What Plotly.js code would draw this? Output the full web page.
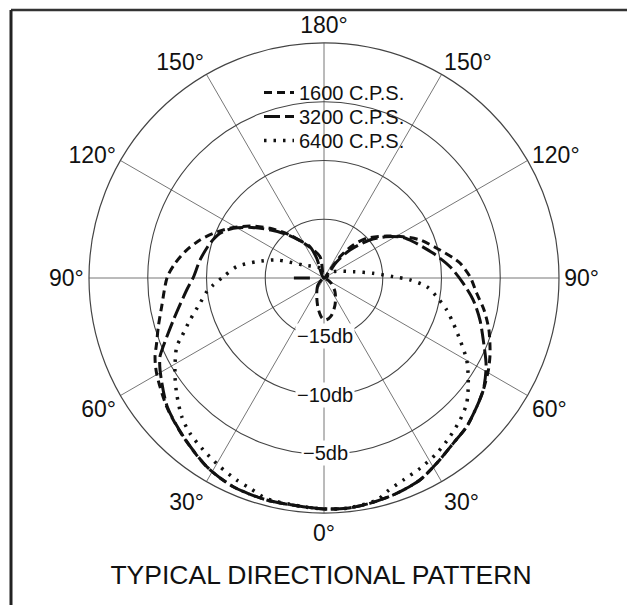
<!DOCTYPE html>
<html>
<head>
<meta charset="utf-8">
<script src="https://cdn.plot.ly/plotly-3.0.1.min.js"></script>
<style>html,body{margin:0;padding:0;background:#fff;}#chart{width:627px;height:605px;}</style>
</head>
<body>
<div id="chart"></div>
<script>
// Angles in degrees from the front (0° at bottom), positive = right side, negative = left side.
// Levels in dB (outer ring 0 dB, centre -20 dB).
var names = ["1600 C.P.S.", "3200 C.P.S.", "6400 C.P.S."];

var theta1600 = [-172, -169.4, -152.3, -141.7, -132.6, -125.1, -117.9, -112.0, -107.0, -101.5, -95.6, -90.3, -80.0, -73.6, -68.7, -64.9, -60.3, -50.7, -41.6, -31.9, -23.5, -14.5, -5.2, 0, 5.6, 11.5, 18.7, 25.4, 31.3, 38.0, 43.8, 49.9, 54.9, 60.8, 64.6, 66.6, 72.5, 78.7, 84.3, 90.5, 96.3, 98.8, 104.8, 111.6, 117.5, 123.8, 132.9, 138.4, 143.1, 143.1, 150,
  null,
  -60, -40.6, -23.2, -11.3, -2.9, 2.7, 10.4, 22.2, 38.2, 54.5, 70];
var r1600 = [-20, -18.15, -16.83, -15.34, -13.75, -12.3, -10.95, -9.84, -8.96, -8.07, -7.26, -6.66, -5.97, -5.30, -4.71, -4.12, -3.6, -2.7, -1.95, -1.09, -0.63, -0.49, -0.46, -0.35, -0.31, -0.43, -0.66, -0.97, -1.54, -2.14, -2.46, -3.0, -3.43, -3.97, -4.37, -4.6, -5.28, -6.11, -6.94, -7.57, -8.36, -8.87, -10.08, -11.2, -12.39, -13.58, -15.04, -16.24, -17.73, -19.15, -20,
  null,
  -20, -19.2, -18.43, -17.4, -16.6, -16.43, -16.7, -17.52, -18.48, -19.27, -20];

var theta3200 = [-165, -159.7, -155.9, -148, -140, -132, -125, -118.7, -113.3, -106.9, -98.3, -90.3, -85.0, -74.4, -66.9, -64.4, -60.7, -50.7, -41.6, -31.9, -23.5, -14.5, -5.2, 0, 5.6, 11.5, 18.7, 25.4, 31.3, 38.0, 43.8, 49.9, 54.9, 61.5, 68.7, 74.9, 81.6, 87.8, 95.1, 102.7, 112.1, 117.5, 123.8, 130, 137.1, 142, 150,
  null,
  -90, -90];
var r3200 = [-20, -18.2, -17.08, -16.3, -15.2, -13.9, -12.5, -11.2, -10.37, -9.86, -9.34, -8.88, -8.27, -6.69, -5.12, -4.52, -4.0, -2.75, -1.97, -1.1, -0.63, -0.49, -0.46, -0.35, -0.31, -0.43, -0.66, -0.97, -1.54, -2.14, -2.46, -3.0, -3.43, -4.3, -5.45, -6.25, -7.16, -8.14, -9.23, -10.46, -11.8, -12.5, -13.7, -15.0, -16.75, -18.3, -20,
  null,
  -18.8, -17.4];

var theta6400 = [-170, -157.6, -122.1, -110.8, -103.6, -97.4, -90.7, -86.4, -83.3, -78.5, -72.6, -67.6, -65.0, -57.4, -52.0, -45.7, -40.8, -35.1, -28.9, -23.4, -19.4, -14.5, -5.2, 0, 5.6, 13.4, 16.4, 21.4, 26.8, 32.7, 38.4, 43.8, 48.7, 53.9, 60.1, 65.5, 70.7, 75.4, 80.6, 85.2, 88.7, 91.1, 95.4, 102.1, 124.1, 140];
var r6400 = [-20, -19.1, -17.92, -15.69, -14.11, -12.51, -11.43, -10.56, -9.95, -9.23, -8.05, -6.9, -6.17, -4.94, -4.08, -3.09, -2.54, -2.12, -1.66, -1.27, -1.03, -0.6, -0.46, -0.35, -0.31, -0.58, -1.05, -1.53, -1.86, -2.26, -2.76, -3.27, -3.84, -4.8, -5.99, -7.28, -8.34, -9.21, -10.28, -11.23, -12.68, -14.1, -15.79, -17.45, -19.05, -20];

var angleTickVals = [0, 30, 60, 90, 120, 150, 180, 210, 240, 270, 300, 330];
var angleTickText = ["0°", "30°", "60°", "90°", "120°", "150°", "180°", "150°", "120°", "90°", "60°", "30°"];
var dbTickVals = [-15, -10, -5];
var dbTickText = ["−15db", "−10db", "−5db"];
var chartTitle = "TYPICAL DIRECTIONAL PATTERN";

var FONT = "Liberation Sans, Arial, sans-serif";

var traces = [
  {type: "scatterpolar", mode: "lines", name: names[0], theta: theta1600, r: r1600, connectgaps: false,
   legend: "legend",
   line: {color: "#111", width: 3, dash: "8px,5px", shape: "spline", smoothing: 0.8}},
  {type: "scatterpolar", mode: "lines", name: names[1], theta: theta3200, r: r3200, connectgaps: false,
   legend: "legend2",
   line: {color: "#111", width: 3, dash: "16px,5px", shape: "spline", smoothing: 0.8}},
  {type: "scatterpolar", mode: "lines", name: names[2], theta: theta6400, r: r6400, connectgaps: false,
   legend: "legend3",
   line: {color: "#111", width: 3.5, dash: "2.5px,7px", shape: "spline", smoothing: 0.8}}
];

// Radial level labels placed on the 0° spoke (bottom), centred on each ring
var domX = [89 / 627, 559 / 627];
var domY = [1 - 513 / 605, 1 - 43 / 605];
var cx = (domX[0] + domX[1]) / 2, cyPix = 278, Rpix = 235;
var annotations = dbTickVals.map(function (v, i) {
  var rp = (v + 20) / 20 * Rpix;
  return {
    xref: "paper", yref: "paper", x: cx + 1 / 627, y: 1 - (cyPix + rp - 1) / 605,
    xanchor: "center", yanchor: "middle", showarrow: false,
    text: dbTickText[i], bgcolor: "#fff", borderpad: 1,
    font: {family: FONT, size: 20, color: "#111"}
  };
});

function legendAt(topPx) {
  return {x: 259 / 627, y: 1 - topPx / 605, xanchor: "left", yanchor: "top",
          bgcolor: "rgba(0,0,0,0)", font: {family: FONT, size: 20, color: "#111"}};
}

var layout = {
  width: 627, height: 605,
  margin: {l: 0, r: 0, t: 0, b: 0},
  paper_bgcolor: "#fff",
  showlegend: true,
  legend: legendAt(73),
  legend2: legendAt(97),
  legend3: legendAt(121),
  title: {text: chartTitle, x: 321 / 627, xanchor: "center", y: 1 - 575 / 605, yanchor: "middle",
          font: {family: FONT, size: 26.5, color: "#111"}},
  polar: {
    domain: {x: domX, y: domY},
    bgcolor: "#fff",
    angularaxis: {
      rotation: 270, direction: "counterclockwise",
      tickmode: "array", tickvals: angleTickVals, ticktext: angleTickText,
      ticks: "", showline: true, linecolor: "#444", linewidth: 1.2,
      showgrid: true, gridcolor: "#777", gridwidth: 1,
      tickfont: {family: FONT, size: 23, color: "#111"}
    },
    radialaxis: {
      range: [-20, 0], tickmode: "array", tickvals: dbTickVals,
      showticklabels: false, ticks: "", showline: false,
      showgrid: true, gridcolor: "#444", gridwidth: 1.1
    }
  },
  annotations: annotations,
  shapes: [
    {type: "line", xref: "paper", yref: "paper", x0: 11 / 627, x1: 1, y0: 1 - 10 / 605, y1: 1 - 10 / 605,
     line: {color: "#333", width: 2.5}},
    {type: "line", xref: "paper", yref: "paper", x0: 11 / 627, x1: 11 / 627, y0: 1 - 10 / 605, y1: 0,
     line: {color: "#222", width: 3}}
  ]
};

Plotly.newPlot("chart", traces, layout, {displayModeBar: false, staticPlot: true});
</script>
</body>
</html>
